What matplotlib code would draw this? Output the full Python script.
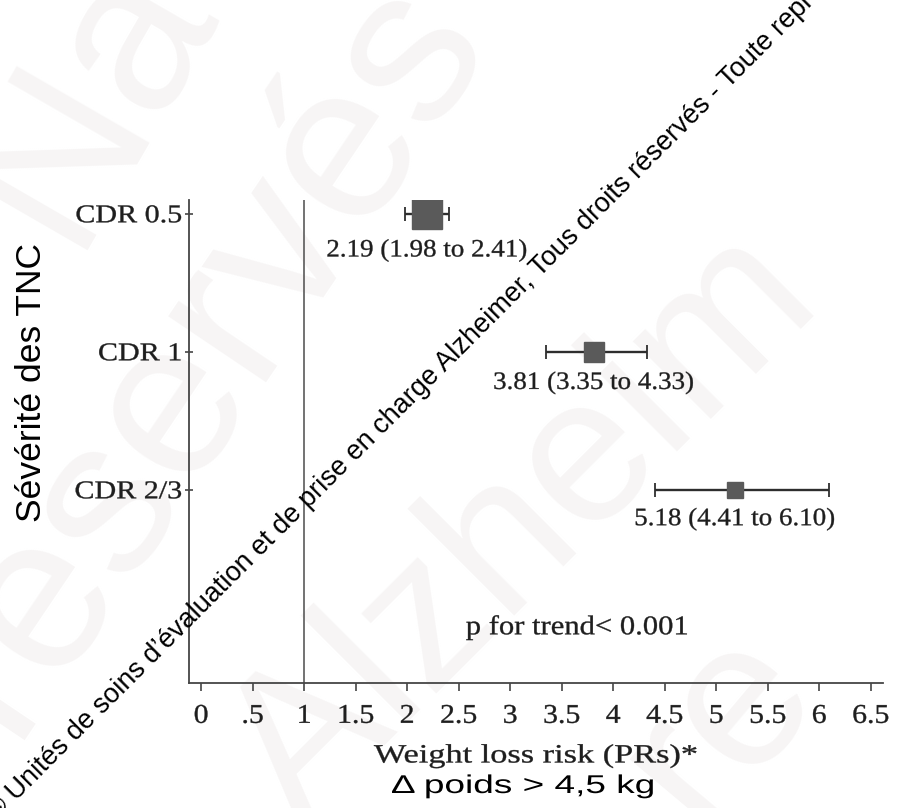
import matplotlib
matplotlib.use("Agg")
import matplotlib.pyplot as plt
from matplotlib.patheffects import AbstractPathEffect
from matplotlib.transforms import Affine2D

# data
groups = ["CDR 0.5", "CDR 1", "CDR 2/3"]
estimates = [2.19, 3.81, 5.18]
ci_low = [1.98, 3.35, 4.41]
ci_high = [2.41, 4.33, 6.10]
p_trend = "p for trend< 0.001"
xticks = [0, 0.5, 1, 1.5, 2, 2.5, 3, 3.5, 4, 4.5, 5, 5.5, 6, 6.5]
xtick_labels = ["0", ".5", "1", "1.5", "2", "2.5", "3", "3.5", "4", "4.5",
                "5", "5.5", "6", "6.5"]

# box size (points) follows the weight of each row
box_sizes = [22, 14, 11.5]

SERIF = "Liberation Serif"
SANS = "Liberation Sans"
INK = "#1e1e1e"
AXC = "#454545"


class Stretch(AbstractPathEffect):
    """widen text horizontally (the source image is stretched), optional fake bold"""

    def __init__(self, sx, anchor="center", weight=0.0):
        super().__init__()
        self.sx = sx
        self.anchor = anchor
        self.weight = weight

    def draw_path(self, renderer, gc, tpath, affine, rgbFace=None):
        xs = tpath.vertices[:, 0]
        if len(xs) == 0:
            return
        if self.anchor == "center":
            x0 = (xs.min() + xs.max()) / 2
        elif self.anchor == "right":
            x0 = xs.max()
        else:
            x0 = xs.min()
        st = Affine2D().translate(-x0, 0).scale(self.sx, 1).translate(x0, 0)
        gc0 = renderer.new_gc()
        gc0.copy_properties(gc)
        if self.weight and rgbFace is not None:
            gc0.set_linewidth(self.weight)
            gc0.set_foreground(rgbFace)
        renderer.draw_path(gc0, tpath, st + affine, rgbFace)
        gc0.restore()


fig = plt.figure(figsize=(9.12, 8.08), dpi=100)
fig.patch.set_facecolor("white")

# faint background watermark
faint = "#f7f5f5"
for txt, px, py, rot, fs in [("Na", 70, 250, 60, 160),
                             ("réservés", 10, 740, 56, 160),
                             ("Alzheim", 300, 830, 45, 150),
                             ("re", 700, 830, 50, 150)]:
    fig.text(px / 912, 1 - py / 808, txt, rotation=rot, rotation_mode="anchor",
             ha="left", va="baseline", fontsize=fs, family=SANS, color=faint,
             zorder=-5)

ax = fig.add_axes([189 / 912, 1 - 683 / 808, 694 / 912, 483 / 808])
ax.set_facecolor("none")

ypos = [2, 1, 0]
for y, est, lo, hi, ms in zip(ypos, estimates, ci_low, ci_high, box_sizes):
    ax.errorbar(est, y, xerr=[[est - lo], [hi - est]], fmt="s", ms=ms,
                mfc="#5a5a5a", mec="#5a5a5a", ecolor="#2e2e2e", elinewidth=1.7,
                capsize=5, capthick=1.3, zorder=3)
    ax.annotate(f"{est:.2f} ({lo:.2f} to {hi:.2f})", (est, y),
                xytext=(0, -(ms / 2 + 7)), textcoords="offset points",
                ha="center", va="top", fontsize=18, family=SERIF, color=INK,
                path_effects=[Stretch(1.08, weight=0.25)])

ax.axvline(1, color="#5a5a5a", lw=1.2, zorder=1)

ax.text(3.65, -1, p_trend, ha="center", va="center", fontsize=19.5,
        family=SERIF, color=INK, path_effects=[Stretch(1.13, weight=0.25)])

ax.set_xlim(-0.117, 6.62)
ax.set_ylim(-1.40, 2.10)

ax.set_xticks(xticks, xtick_labels)
ax.set_yticks(ypos, groups)
ax.tick_params(axis="x", direction="out", length=6, width=1.2, color=AXC,
               pad=9, labelsize=19.5, labelcolor=INK)
ax.tick_params(axis="y", direction="inout", length=6, width=1.2, color=AXC,
               pad=2, labelsize=18.5, labelcolor=INK)
for lab in ax.get_xticklabels():
    lab.set_family(SERIF)
    lab.set_path_effects([Stretch(1.1, weight=0.25)])
for lab in ax.get_yticklabels():
    lab.set_family(SERIF)
    lab.set_path_effects([Stretch(1.17, "right", weight=0.25)])

for side in ["top", "right"]:
    ax.spines[side].set_visible(False)
for side in ["left", "bottom"]:
    ax.spines[side].set_color(AXC)
    ax.spines[side].set_linewidth(1.3)

ax.set_xlabel("Weight loss risk (PRs)*", fontsize=19, family=SERIF, color=INK,
              path_effects=[Stretch(1.3, weight=0.25)])
ax.xaxis.set_label_coords(0.5, -0.128)

# captions added on the slide
fig.text(32 / 912, 1 - 383 / 808, "Sévérité des TNC", rotation=90,
         ha="center", va="center", fontsize=25.5, family=SANS, color="black")
fig.text(523 / 912, 1 - 793 / 808, "Δ poids > 4,5 kg", ha="center",
         va="baseline", fontsize=18.5, family=SANS, color="black",
         path_effects=[Stretch(1.44)])

# copyright line across the page
fig.text(-3 / 912, 1 - 821 / 808,
         "© Unités de soins d’évaluation et de prise en charge Alzheimer, "
         "Tous droits réservés - Toute reproduction interdite",
         rotation=45, rotation_mode="anchor", ha="left", va="baseline",
         fontsize=19.5, family=SANS, color="black", zorder=10)

fig.savefig("out.png", dpi=100, facecolor="white")
plt.close(fig)
